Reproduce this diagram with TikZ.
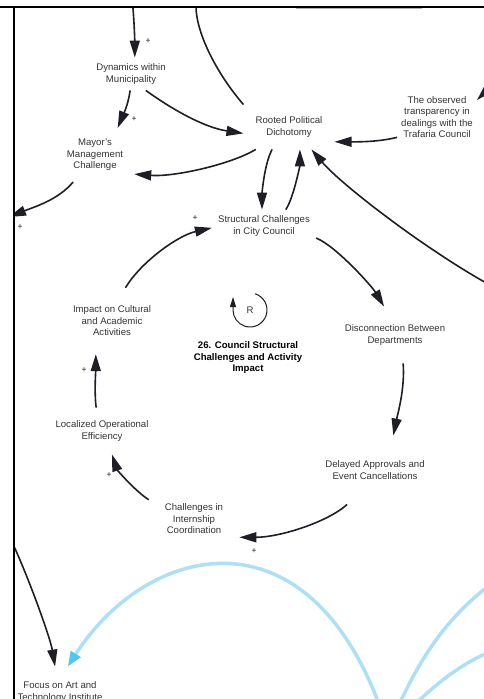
\documentclass[tikz,border=0pt]{standalone}
\usepackage{fontspec}
\setmainfont{Liberation Sans}
\usetikzlibrary{arrows.meta}
\definecolor{ink}{HTML}{1E1E26}
\definecolor{txt}{HTML}{333333}
\definecolor{sky}{HTML}{AEDFF5}
\definecolor{skytip}{HTML}{55C4EE}
\tikzset{
  var/.style={font=\fontsize{9.6}{11.5}\selectfont, text=txt, align=center, inner sep=6pt},
  pol/.style={font=\fontsize{8.5}{8.5}\selectfont, text=ink, inner sep=0pt},
  link/.style={ink, line width=1.6pt, -{Triangle[length=17pt,width=10pt]}},
  feed/.style={sky, line width=3.5pt},
  feedlink/.style={feed, -{Triangle[length=15pt,width=11pt,color=skytip]}}
}
\begin{document}
\begin{tikzpicture}[x=1pt, y=1pt]
  \useasboundingbox (0,0) rectangle (484,-699);
  \begin{scope}
  \clip (14,-7) rectangle (484,-699);
  \node[var] (dyn) at (131,-74) {Dynamics within\\Municipality};
  \node[var, inner sep=11pt] (mayor) at (95,-155) {Mayor's\\Management\\Challenge};
  \node[var, inner sep=12pt] (rpd) at (289,-127) {Rooted Political\\Dichotomy};
  \node[var, inner sep=4pt] (obs) at (437,-117) {The observed\\transparency in\\dealings with the\\Trafaria Council};
  \node[var] (sc) at (264,-226) {Structural Challenges\\in City Council};
  \node[var, inner sep=18pt] (dis) at (395,-335) {Disconnection Between\\Departments};
  \node[var, inner sep=25pt] (del) at (375,-470) {Delayed Approvals and\\Event Cancellations};
  \node[var, inner sep=16pt] (ic) at (194,-519) {Challenges in\\Internship\\Coordination};
  \node[var, inner sep=13pt] (loc) at (102,-431) {Localized Operational\\Efficiency};
  \node[var, inner sep=18pt] (imp) at (112,-321) {Impact on Cultural\\and Academic\\Activities};
  \node[var, inner sep=15pt] (focus) at (60,-692) {Focus on Art and\\Technology Institute};
  \node[var, inner sep=0pt] (r) at (250,-310) {R};
  \node[var, text=black, font=\fontsize{9.6}{11.5}\selectfont\bfseries] (lp) at (248,-358) {26. Council Structural\\Challenges and Activity\\Impact};

  \coordinate (top1) at (131,10);
  \coordinate (top2) at (196,10);
  \coordinate (left1) at (9,-217);
  \coordinate (left2) at (10,-538);
  \coordinate (right1) at (505,-72);
  \coordinate (right2) at (520,-300);
  \coordinate (src) at (388,-730);
  \coordinate (out1) at (510,-570);
  \coordinate (out2) at (510,-645);

  \draw[link] (top1) .. controls +(3,-20) and +(0,15) .. (dyn.77);
  \draw[link] (rpd.north west) .. controls +(-30,35) and +(0,-40) .. (top2);
  \draw[link] (dyn.267) .. controls +(-2,-15) and +(5,12) .. (mayor.50);
  \draw[link] (dyn.312) .. controls +(25,-18) and +(-40,6) .. (rpd.188);
  \draw[link] (rpd.214) .. controls +(-25,-15) and +(40,-3) .. (mayor.334);
  \draw[link] (mayor.231) .. controls +(-15,-18) and +(25,10) .. (left1);
  \draw[link] (rpd.233) .. controls +(-8,-15) and +(0,15) .. (sc.97);
  \draw[link] (sc.37) .. controls +(8,12) and +(0,-15) .. (rpd.296);
  \draw[link] (obs.207) .. controls +(-20,-5) and +(20,0) .. (rpd.342);
  \draw[link] (right1) .. controls +(-10,-10) and +(10,10) .. (obs.23);
  \draw[link] (right2) .. controls +(-65,28) and +(33,-39) .. (rpd.315);
  \draw[link] (sc.347) .. controls +(20,-8) and +(-12,20) .. (dis.111);
  \draw[link] (dis.286) .. controls +(2,-25) and +(4,20) .. (del.62);
  \draw[link] (del.231) .. controls +(-20,-18) and +(40,0) .. (ic.338);
  \draw[link] (ic.157) .. controls +(-15,10) and +(5,-15) .. (loc.293);
  \draw[link] (loc.104) .. controls +(-2,15) and +(0,-15) .. (imp.244);
  \draw[link] (imp.68) .. controls +(15,25) and +(-35,-8) .. (sc.182);
  \draw[link] (left2) .. controls +(15,-30) and +(-5,30) .. (focus.101);

  \draw[feedlink] (src) .. controls +(-72,230) and +(80,125) .. (focus.73);
  \draw[feed] (src) .. controls +(37,90) and +(-50,-35) .. (out1);
  \draw[feed] (src) .. controls +(32,30) and +(-55,-15) .. (out2);

  \draw[ink, line width=1pt, -{Triangle[length=10pt,width=6pt]}]
    (r) ++(73:17) arc[start angle=73, end angle=-180, radius=17] -- ++(0,13);

  \node[pol] (p1) at (148,-41) {+};
  \node[pol] (p2) at (134,-119) {+};
  \node[pol] (p3) at (20,-227) {+};
  \node[pol] (p4) at (195,-218) {+};
  \node[pol] (p5) at (254,-551) {+};
  \node[pol] (p6) at (109,-475) {+};
  \node[pol] (p7) at (84,-370) {+};
  \end{scope}

  \draw[gray!60, line width=1pt] (296,-8.5) -- (422,-8.5);
  \draw[black, line width=2pt] (0,-7) -- (484,-7);
  \draw[black, line width=2pt] (14,-7) -- (14,-699);
\end{tikzpicture}
\end{document}
